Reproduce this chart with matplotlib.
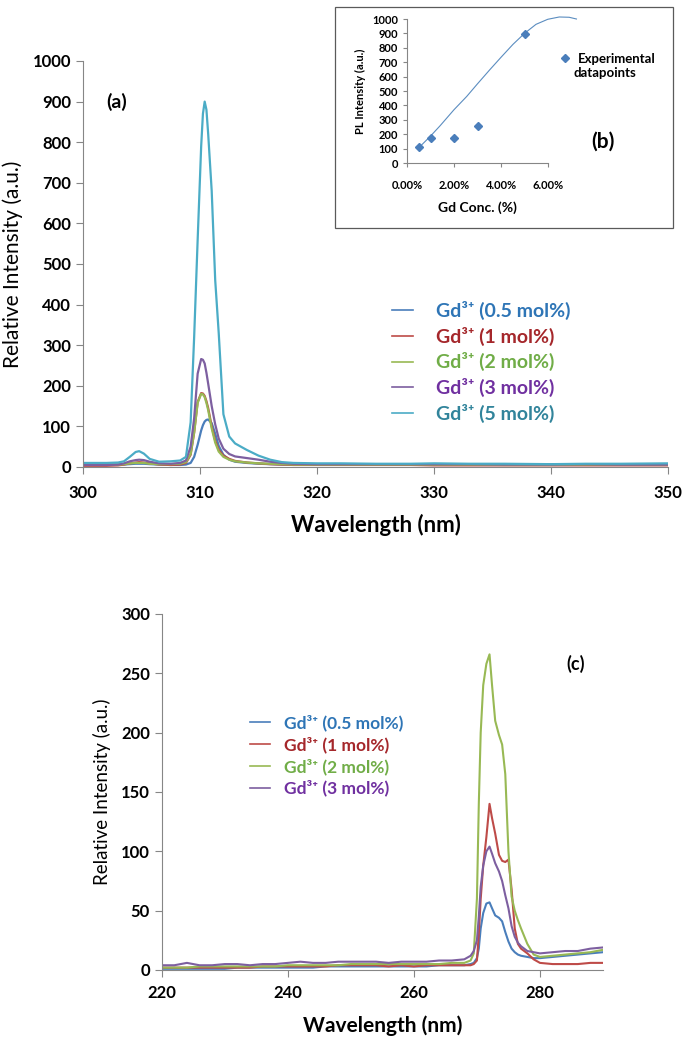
import matplotlib
matplotlib.use("Agg")
import matplotlib.pyplot as plt
from matplotlib.patches import Rectangle

plt.rcParams['font.family'] = ['Lato', 'DejaVu Sans']

# ---- panel (a): emission spectra, 300-350 nm ----
wl_a = [300, 301, 302, 303, 303.5, 304, 304.5, 304.8, 305.2, 305.7,
        306.5, 307.5, 308.3, 308.8, 309.2, 309.5, 309.8, 310.1, 310.25, 310.4,
        310.55, 310.7, 311.0, 311.3, 311.6, 312.0, 312.5, 313.0, 314, 315,
        316, 317, 318, 320, 322, 325, 328, 330, 333, 336,
        340, 343, 346, 350]
a_05 = [6, 6, 6, 6, 6, 7, 8, 8, 8, 7,
        6, 5, 5, 6, 10, 25, 55, 90, 103, 112,
        116, 117, 108, 82, 52, 30, 18, 13, 10, 8,
        7, 6, 6, 6, 6, 6, 6, 6, 6, 6,
        6, 6, 6, 6]
a_1 = [3, 3, 3, 4, 6, 9, 11, 12, 11, 9,
       6, 5, 6, 10, 30, 85, 160, 182, 181, 175,
       162, 145, 100, 65, 42, 28, 20, 15, 11, 9,
       7, 6, 5, 5, 5, 5, 5, 4, 4, 4,
       4, 4, 4, 4]
a_2 = [6, 6, 6, 6, 7, 9, 10, 10, 10, 8,
       7, 7, 8, 12, 32, 85, 158, 180, 179, 172,
       158, 140, 95, 60, 38, 25, 18, 14, 11, 9,
       8, 7, 6, 6, 6, 6, 6, 6, 6, 5,
       5, 6, 6, 6]
a_3 = [5, 5, 5, 6, 9, 14, 17, 18, 17, 13,
       9, 8, 10, 16, 50, 120, 230, 266, 264, 255,
       232, 205, 150, 105, 70, 45, 32, 26, 22, 18,
       13, 10, 8, 7, 7, 7, 7, 7, 7, 6,
       6, 7, 6, 6]
a_5 = [10, 10, 10, 11, 14, 25, 37, 39, 33, 20,
       13, 14, 16, 25, 110, 320, 560, 790, 870, 900,
       880, 820, 680, 460, 330, 130, 75, 58, 42, 28,
       18, 12, 10, 9, 9, 8, 8, 9, 8, 8,
       7, 8, 8, 9]

# ---- panel (b): PL intensity vs Gd concentration ----
conc_pts = [0.005, 0.01, 0.02, 0.03, 0.05]
pl_pts = [110, 175, 175, 260, 895]
fit_conc = [0.0049, 0.0099, 0.0141, 0.020, 0.0254, 0.030, 0.0352, 0.040,
            0.0451, 0.050, 0.0549, 0.0599, 0.0648, 0.069, 0.0721]
fit_pl = [104, 185, 259, 370, 462, 550, 647, 734,
          824, 900, 963, 998, 1014, 1012, 1000]

# ---- panel (c): spectra, 220-290 nm ----
wl_c = [220, 222, 224, 226, 228, 230, 232, 234, 236, 238,
        240, 242, 244, 246, 248, 250, 252, 254, 256, 258,
        260, 262, 264, 266, 268,
        269, 269.5, 270, 270.3, 270.6, 271, 271.5, 272, 272.4, 272.9,
        273.5, 274, 274.5, 275, 275.5, 276, 276.5, 277, 278, 279, 280,
        282, 284, 286, 288, 290]
c_05 = [1, 1, 1, 1, 1, 1, 2, 2, 2, 2,
        2, 2, 2, 3, 3, 3, 3, 3, 3, 3,
        3, 3, 4, 4, 4,
        5, 6, 10, 18, 35, 48, 56, 57, 52, 46,
        44, 41, 32, 24, 18, 15, 13, 12, 11, 10, 10,
        11, 12, 13, 14, 15]
c_1 = [2, 2, 2, 2, 2, 2, 2, 2, 3, 3,
       3, 3, 3, 3, 4, 4, 4, 4, 3, 4,
       3, 4, 4, 4, 4,
       4, 5, 8, 30, 60, 88, 112, 140, 128, 115,
       97, 92, 91, 93, 68, 35, 22, 18, 14, 9, 6,
       5, 5, 5, 6, 6]
c_2 = [2, 2, 2, 3, 3, 3, 3, 3, 3, 3,
       4, 4, 4, 4, 4, 5, 5, 5, 5, 5,
       5, 5, 5, 6, 6,
       8, 14, 60, 140, 200, 240, 258, 266, 240, 210,
       198, 190, 165, 100, 62, 50, 42, 35, 22, 13, 11,
       12, 13, 14, 15, 17]
c_3 = [4, 4, 6, 4, 4, 5, 5, 4, 5, 5,
       6, 7, 6, 6, 7, 7, 7, 7, 6, 7,
       7, 7, 8, 8, 9,
       12, 16, 25, 45, 70, 88, 100, 104, 98, 90,
       83, 75, 63, 52, 37, 28, 23, 20, 16, 15, 14,
       15, 16, 16, 18, 19]

labels_a = ['Gd³⁺ (0.5 mol%)', 'Gd³⁺ (1 mol%)', 'Gd³⁺ (2 mol%)',
            'Gd³⁺ (3 mol%)', 'Gd³⁺ (5 mol%)']
line_colors = ['#4A7EBB', '#BE4B48', '#98B954', '#7D5FA0', '#4BACC6']
text_colors = ['#2E75B6', '#A5272B', '#70AD47', '#7030A0', '#31849B']

SPINE = '#868686'
FONTS = ['Lato', 'DejaVu Sans']


def style_axes(ax, tick_size):
    for side in ['top', 'right']:
        ax.spines[side].set_visible(False)
    for side in ['left', 'bottom']:
        ax.spines[side].set_color(SPINE)
    ax.tick_params(direction='out', color=SPINE, length=5, labelsize=tick_size)
    for lab in ax.get_xticklabels() + ax.get_yticklabels():
        lab.set_fontweight('bold')


def plot_panel_a(fig):
    ax = fig.add_axes([83 / 685, 1 - 467 / 1037, (668 - 83) / 685, (467 - 61) / 1037])
    series = [a_05, a_1, a_2, a_3, a_5]
    for ys, lab, col in zip(series, labels_a, line_colors):
        ax.plot(wl_a, ys, color=col, lw=1.6, label=lab)
    ax.set_xlim(300, 350)
    ax.set_ylim(0, 1000)
    ax.set_xticks(range(300, 351, 10))
    ax.set_yticks(range(0, 1001, 100))
    style_axes(ax, 12)
    ax.tick_params(axis='x', pad=8)
    ax.set_ylabel('Relative Intensity (a.u.)', fontsize=15, labelpad=7)
    ax.set_xlabel('Wavelength (nm)', fontsize=16, fontweight='bold', labelpad=9)
    ax.text(302.9, 900, '(a)', fontsize=14, fontweight='bold', ha='center', va='center')
    leg = ax.legend(loc='upper left', bbox_to_anchor=(382 / 685, 1 - 291 / 1037),
                    bbox_transform=fig.transFigure, frameon=False, borderpad=0,
                    handlelength=1.1, handletextpad=1.2, labelspacing=0.35,
                    labelcolor=text_colors,
                    prop={'weight': 'bold', 'size': 14, 'family': FONTS})
    for line in leg.get_lines():
        line.set_linewidth(1.2)


def plot_panel_b(fig):
    # frame around the inset
    fig.patches.append(Rectangle((335 / 685, 1 - 228 / 1037), 338 / 685, 221 / 1037,
                                 transform=fig.transFigure, fill=True, facecolor='white',
                                 edgecolor='#5a5a5a', lw=0.9, zorder=3))
    ax = fig.add_axes([407 / 685, 1 - 163 / 1037, (548 - 407) / 685, (163 - 19) / 1037])
    ax.set_zorder(4)
    ax.patch.set_alpha(0)
    ax.plot(fit_conc, fit_pl, color='#5B8DC0', lw=0.8, clip_on=False)
    ax.plot(conc_pts, pl_pts, 'D', color='#4A7EBB', ms=4.5, clip_on=False,
            label='Experimental')
    ax.set_xlim(0, 0.06)
    ax.set_ylim(0, 1000)
    ax.set_xticks([0, 0.02, 0.04, 0.06])
    ax.set_xticklabels(['0.00%', '2.00%', '4.00%', '6.00%'])
    ax.set_yticks(range(0, 1001, 100))
    style_axes(ax, 8)
    ax.tick_params(length=3)
    ax.tick_params(axis='x', pad=9)
    ax.set_ylabel('PL Intensity (a.u.)', fontsize=8, fontweight='bold', labelpad=4)
    ax.set_xlabel('Gd Conc. (%)', fontsize=10, fontweight='bold', labelpad=8)
    ax.text(0.0833, 150, '(b)', fontsize=15, fontweight='bold', ha='center', va='center')
    ax.legend(loc='upper left', bbox_to_anchor=(552 / 685, 1 - 46 / 1037),
              bbox_transform=fig.transFigure, frameon=False, borderpad=0,
              handlelength=1.0, handletextpad=0.45,
              prop={'weight': 'bold', 'size': 9.5})
    fig.text(573 / 685, 1 - 73 / 1037, 'datapoints', fontsize=9.5, fontweight='bold',
             ha='left', va='center', zorder=5)


def plot_panel_c(fig):
    ax = fig.add_axes([161.7 / 685, 1 - 970 / 1037, (603 - 161.7) / 685, (970 - 614) / 1037])
    series = [c_05, c_1, c_2, c_3]
    for ys, lab, col in zip(series, labels_a[:4], line_colors[:4]):
        ax.plot(wl_c, ys, color=col, lw=1.5, label=lab)
    ax.set_xlim(220, 290)
    ax.set_ylim(0, 300)
    ax.set_xticks(range(220, 281, 20))
    ax.set_yticks(range(0, 301, 50))
    style_axes(ax, 12)
    ax.tick_params(axis='x', pad=6)
    ax.set_ylabel('Relative Intensity (a.u.)', fontsize=13.5, labelpad=7)
    ax.set_xlabel('Wavelength (nm)', fontsize=15, fontweight='bold', labelpad=10)
    ax.text(285.6, 258, '(c)', fontsize=13, fontweight='bold', ha='center', va='center')
    leg = ax.legend(loc='upper left', bbox_to_anchor=(241 / 685, 1 - 706 / 1037),
                    bbox_transform=fig.transFigure, frameon=False, borderpad=0,
                    handlelength=1.15, handletextpad=0.85, labelspacing=0.29,
                    labelcolor=text_colors[:4],
                    prop={'weight': 'bold', 'size': 12.5, 'family': FONTS})
    for line in leg.get_lines():
        line.set_linewidth(1.2)


def main():
    fig = plt.figure(figsize=(6.85, 10.37), dpi=100)
    plot_panel_a(fig)
    plot_panel_b(fig)
    plot_panel_c(fig)
    fig.savefig('out.png', dpi=100)


if __name__ == "__main__":
    main()
